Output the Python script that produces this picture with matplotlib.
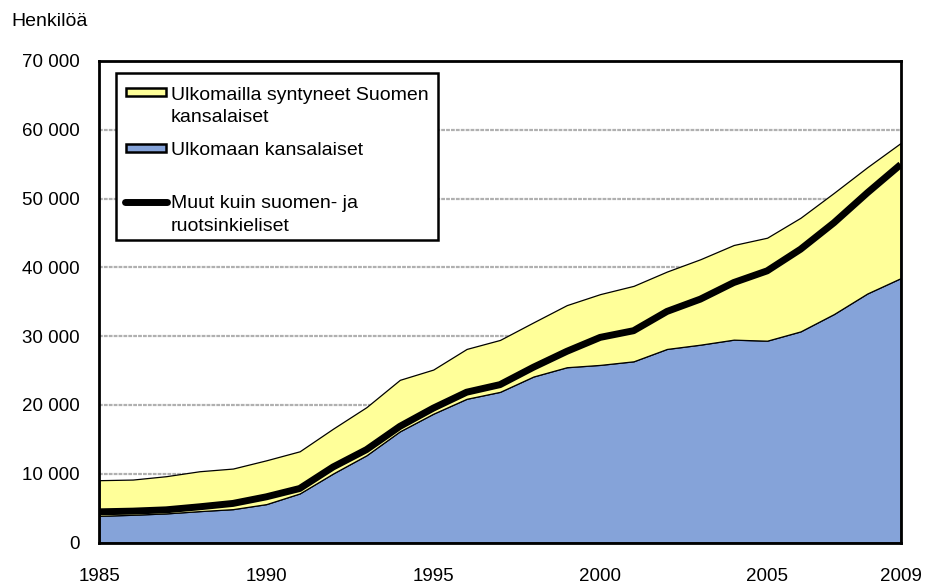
import matplotlib
matplotlib.use('Agg')
import matplotlib.pyplot as plt
from matplotlib.patches import Rectangle
from matplotlib.lines import Line2D
from matplotlib.ticker import FuncFormatter

plt.rcParams['font.family'] = ['Liberation Sans', 'DejaVu Sans']

# data
years = list(range(1985, 2010))
ulkomaan_kansalaiset = [3880, 4030, 4230, 4560, 4850, 5580, 7130, 10030, 12680, 16160,
                        18720, 20890, 21900, 24130, 25480, 25820, 26340, 28140, 28760,
                        29490, 29340, 30690, 33210, 36200, 38430]
ulkomailla_syntyneet = [5180, 5120, 5410, 5800, 5900, 6370, 6130, 6520, 7000, 7490,
                        6420, 7250, 7550, 7870, 9030, 10290, 10970, 11250, 12420,
                        13760, 14970, 16520, 17620, 18360, 19650]
muut_kielet = [4460, 4560, 4750, 5190, 5680, 6640, 7850, 10980, 13500, 16880,
               19530, 21850, 22950, 25480, 27790, 29820, 30790, 33590, 35380,
               37790, 39490, 42630, 46480, 50830, 54950]
x_ticks = [1985, 1990, 1995, 2000, 2005, 2009]

labels = [['Ulkomailla syntyneet Suomen', 'kansalaiset'],
          ['Ulkomaan kansalaiset'],
          ['Muut kuin suomen- ja', 'ruotsinkieliset']]
blue = '#85A3D9'
yellow = '#FFFF99'

W, H = 925, 587
fig = plt.figure(figsize=(W / 100, H / 100), dpi=100)
ax = fig.add_axes([0.1074, 0.0758, 0.8663, 0.8203])

ax.stackplot(years, ulkomaan_kansalaiset, ulkomailla_syntyneet,
             colors=[blue, yellow], edgecolor='black', linewidth=0.9, zorder=2)
ax.plot(years, muut_kielet, color='black', linewidth=5, solid_capstyle='butt', zorder=3)

ax.set_xlim(1985, 2009)
ax.set_ylim(0, 70000)
ax.set_xticks(x_ticks)
ax.set_yticks(range(0, 70001, 10000))
ax.yaxis.set_major_formatter(FuncFormatter(lambda v, p: f'{int(v):,}'.replace(',', ' ')))
ax.tick_params(axis='both', length=0, labelsize=13.5)
ax.tick_params(axis='y', pad=14)
ax.tick_params(axis='x', pad=18)

ax.grid(axis='y', color='#B0B0B0', linestyle=(0, (1.7, 0.5)), linewidth=1.6, zorder=1)
ax.set_axisbelow(True)
for s in ax.spines.values():
    s.set_linewidth(2.0)
    s.set_zorder(5)

fig.text(11 / W, 1 - 26 / H, 'Henkilöä', fontsize=14, va='baseline')


# legend drawn by hand so the keys sit on the first line of each label
def fx(x):
    return x / W


def fy(y):
    return 1 - y / H


fig.add_artist(Rectangle((fx(116), fy(240)), fx(438) - fx(116), fy(73) - fy(240),
                         transform=fig.transFigure, facecolor='white', edgecolor='black',
                         linewidth=1.8, zorder=6))
key_y = [91.5, 148, 202]
text_base = [99.5, 155, 208.5]
line_gap = 22.5
for i, lines in enumerate(labels):
    if i < 2:
        col = yellow if i == 0 else blue
        fig.add_artist(Rectangle((fx(126), fy(key_y[i] + 4)), fx(166) - fx(126), fy(key_y[i] - 4) - fy(key_y[i] + 4),
                                 transform=fig.transFigure, facecolor=col, edgecolor='black',
                                 linewidth=1.8, zorder=7))
    else:
        fig.add_artist(Line2D([fx(125), fx(167)], [fy(key_y[i]), fy(key_y[i])],
                              transform=fig.transFigure, color='black', linewidth=5,
                              solid_capstyle='round', zorder=7))
    for j, txt in enumerate(lines):
        fig.text(fx(171), fy(text_base[i] + j * line_gap), txt, fontsize=14,
                 va='baseline', ha='left', zorder=8)

plt.savefig('out.png', dpi=100, facecolor='white')
plt.close()
